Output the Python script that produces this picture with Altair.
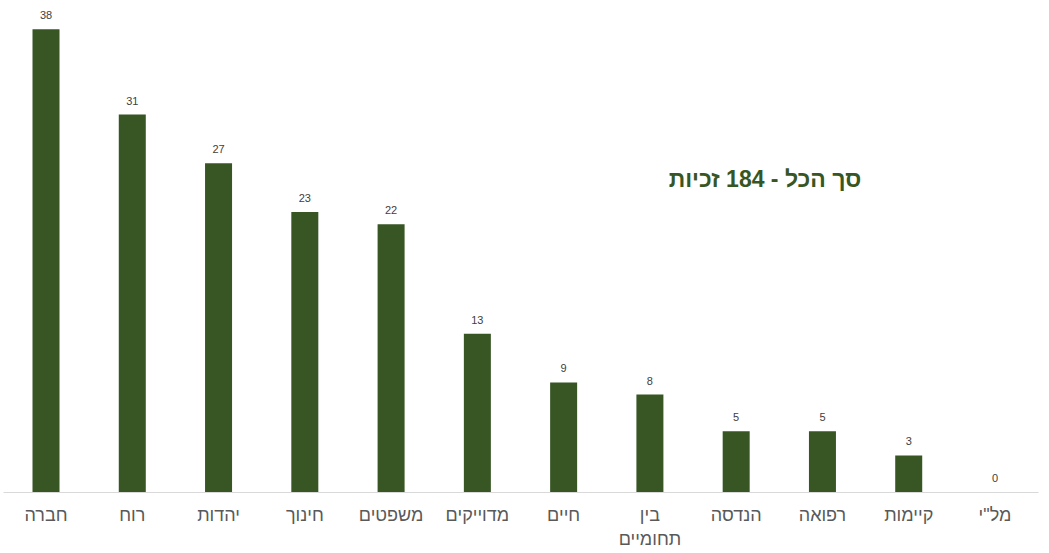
import altair as alt
import pandas as pd

categories = ["חברה", "רוח", "יהדות", "חינוך", "משפטים", "מדוייקים", "חיים",
              "בין\nתחומיים", "הנדסה", "רפואה", "קיימות", "מל\"י"]
values = [38, 31, 27, 23, 22, 13, 9, 8, 5, 5, 3, 0]
title_text = "סך הכל - 184 זכיות"

df = pd.DataFrame({"cat": categories, "val": values})

FONT = "Liberation Sans"
GREEN = "#375623"

x = alt.X("cat:N", sort=categories, title=None,
          scale=alt.Scale(paddingInner=0.687, paddingOuter=0.342),
          axis=alt.Axis(labelAngle=0, labelFontSize=18, labelColor="#595959",
                        labelFont=FONT, labelPadding=14, ticks=False,
                        domainColor="#d9d9d9", domainWidth=1.2,
                        labelLineHeight=24,
                        labelExpr="split(datum.label, '\\n')"))
y = alt.Y("val:Q", title=None, scale=alt.Scale(domain=[0, 40], nice=False), axis=None)

bars = alt.Chart(df).mark_bar(color=GREEN).encode(x=x, y=y)
labels = alt.Chart(df).mark_text(baseline="bottom", dy=-8, fontSize=11,
                                 color="#404040", font=FONT).encode(
    x=alt.X("cat:N", sort=categories), y=y, text="val:Q")

tdf = pd.DataFrame({"t": [title_text]})
title = alt.Chart(tdf).mark_text(dir="rtl", align="center", baseline="middle",
                                 fontSize=23, fontWeight="bold", color=GREEN,
                                 font=FONT).encode(
    x=alt.value(762), y=alt.value(175), text="t:N")

chart = alt.layer(bars, labels, title).properties(
    width=1035, height=487,
    background="white",
    autosize=alt.AutoSizeParams(type="none"),
    padding={"left": 3, "top": 5, "right": 11, "bottom": 61},
).configure_view(stroke=None, strokeWidth=0)

chart.save("out.html", embed_options={"renderer": "svg", "actions": False})
